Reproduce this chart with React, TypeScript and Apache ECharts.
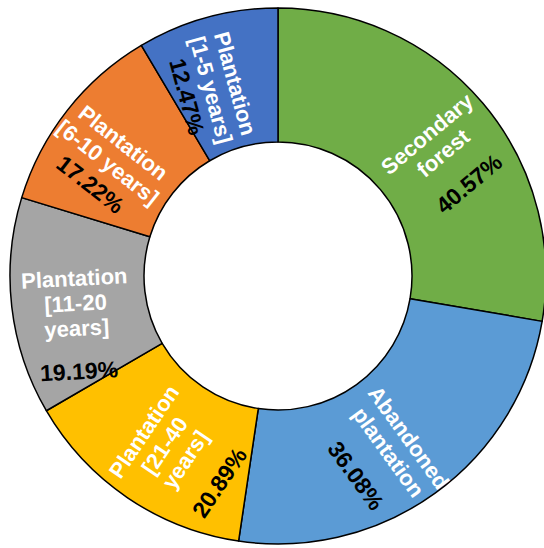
import React, { useEffect, useRef } from "react";
import * as echarts from "echarts";

const categories = [
  "Secondary\nforest",
  "Abandoned\nplantation",
  "Plantation\n[21-40\nyears]",
  "Plantation\n[11-20\nyears]",
  "Plantation\n[6-10 years]",
  "Plantation\n[1-5 years]",
];
const values = [40.57, 36.08, 20.89, 19.19, 17.22, 12.47];
const colors = ["#70AD47", "#5B9BD5", "#FFC000", "#A5A5A5", "#ED7D31", "#4472C4"];

// label styling: distance (px) from the last name line to the percentage line,
// and label padding [top, right, bottom, left] to mimic the original placement
const pctGap = [40, 40, 41, 43, 28, 25];
const labelPadding: number[][] = [
  [55, 0, 0, 3],
  [58, 0, 0, 7],
  [60, 0, 0, 0],
  [69, 0, 0, 0],
  [38, 0, 0, 0],
  [31, 0, 0, 14],
];
const NAME_LH = 25;
const FONT = "Liberation Sans, Arial, sans-serif";

const richFor = (gap: number) => ({
  n: {
    color: "#ffffff",
    fontWeight: "bold",
    fontSize: 22,
    lineHeight: NAME_LH,
    fontFamily: FONT,
  },
  p: {
    color: "#000000",
    fontWeight: "bold",
    fontSize: 23,
    lineHeight: 2 * (gap - NAME_LH / 2),
    fontFamily: FONT,
  },
});

export default function App() {
  const ref = useRef<HTMLDivElement>(null);
  useEffect(() => {
    if (!ref.current) return;
    const chart = echarts.init(ref.current, undefined, { renderer: "svg" });
    chart.setOption({
      animation: false,
      backgroundColor: "#ffffff",
      series: [
        {
          type: "pie",
          center: [278, 276],
          radius: [134, 268],
          startAngle: 90,
          clockwise: true,
          avoidLabelOverlap: false,
          itemStyle: { borderColor: "#000000", borderWidth: 1.5 },
          label: {
            show: true,
            position: "inside",
            rotate: "radial",
            fontFamily: FONT,
            formatter: (p: any) =>
              p.name
                .split("\n")
                .map((s: string) => `{n|${s}}`)
                .join("\n") + `\n{p|${p.value.toFixed(2)}%}`,
          },
          labelLine: { show: false },
          data: categories.map((c, i) => ({
            name: c,
            value: values[i],
            itemStyle: { color: colors[i] },
            label: {
              padding: labelPadding[i],
              rich: richFor(pctGap[i]),
              ...(i === 3 ? { rotate: 3 } : {}),
            },
          })),
        },
      ],
    });
    return () => chart.dispose();
  }, []);
  return (
    <div
      ref={ref}
      style={{ position: "fixed", left: 0, top: 0, width: 544, height: 548 }}
    />
  );
}
